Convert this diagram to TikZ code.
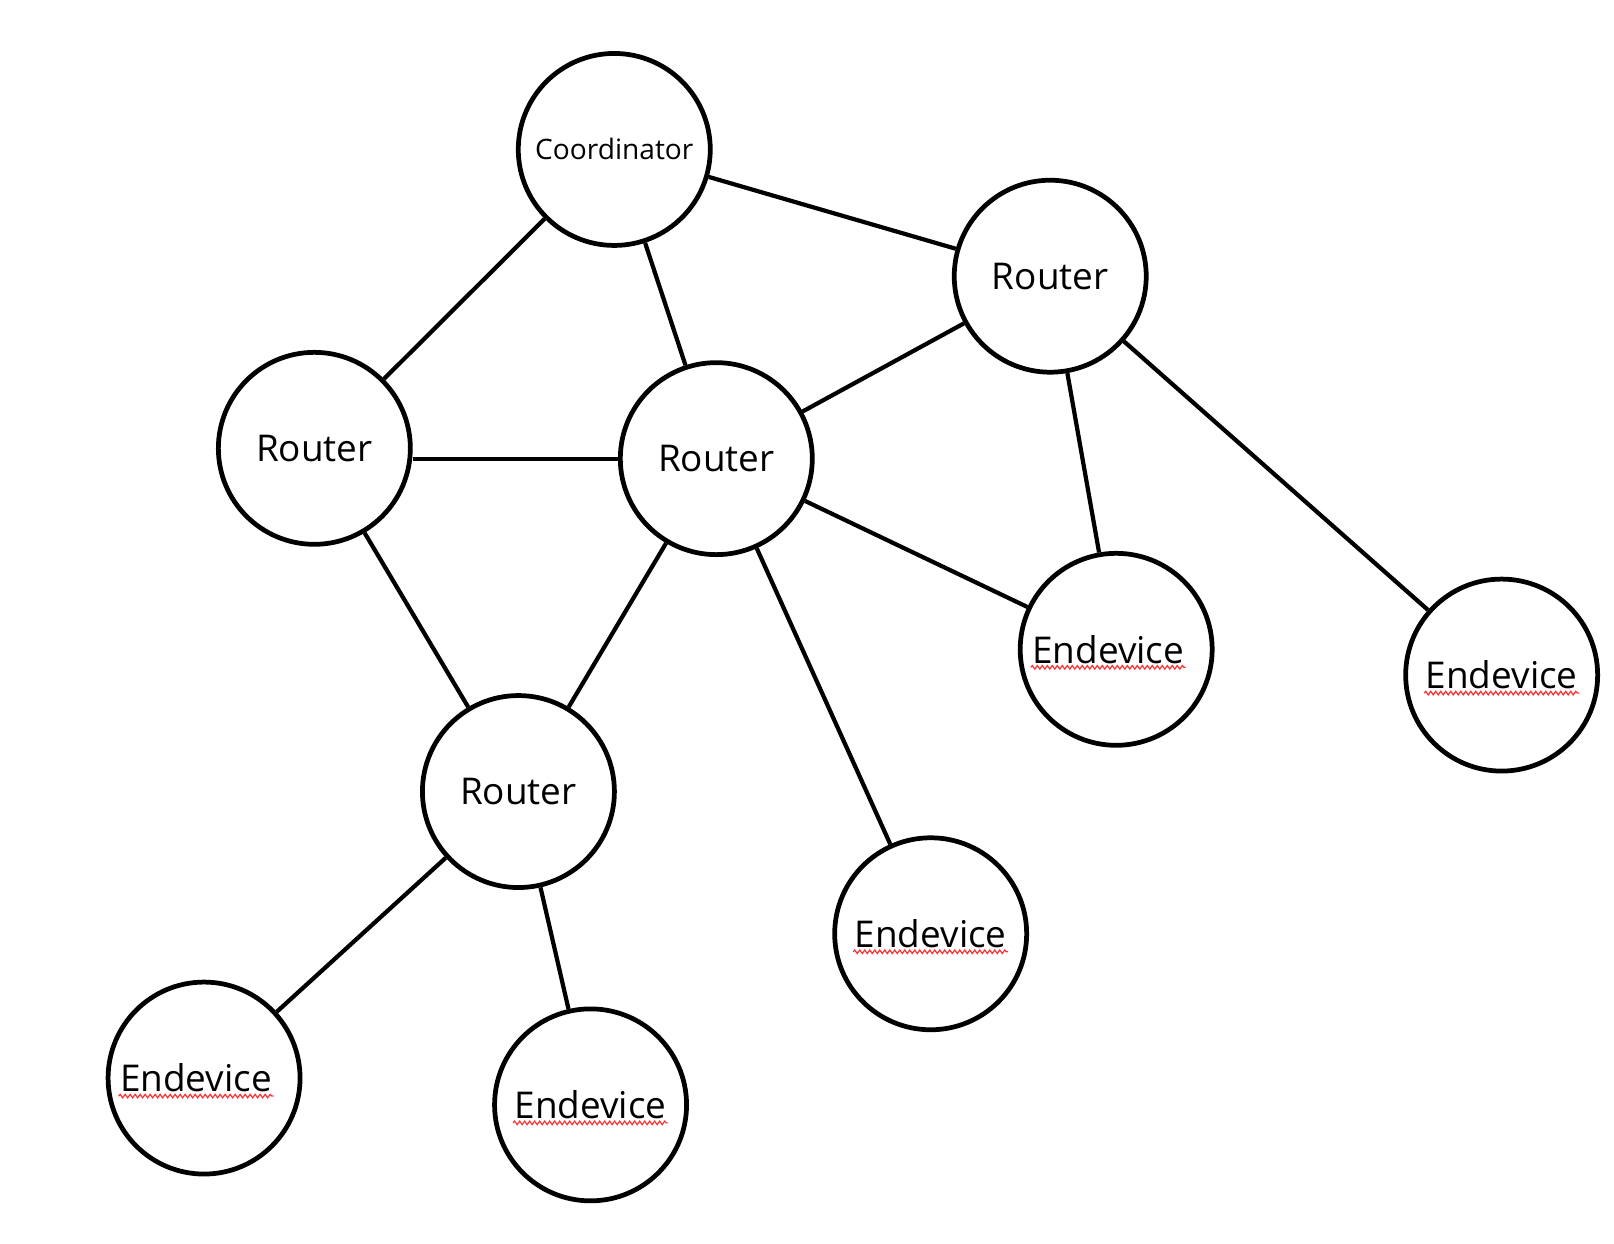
\documentclass[tikz,border=0pt]{standalone}
\usepackage{fontspec}
\setmainfont{Open Sans}
\usetikzlibrary{decorations.pathmorphing}

\begin{document}
\begin{tikzpicture}[x=0.02062cm, y=-0.02062cm,
    dev/.style={draw, circle, line width=2.7pt, inner sep=0pt, minimum size=3.84cm,
        font=\fontsize{21}{25}\selectfont},
    coordbox/.style={dev, font=\fontsize{16}{19}\selectfont},
    endev/.style={dev, path picture={
        \draw[line width=0.7pt, red!80, decorate,
            decoration={snake, amplitude=0.035cm, segment length=0.1cm}]
            ([shift={(-1.55cm+#1,-0.36cm)}]path picture bounding box.center)
            -- ++(3.1cm,0);}},
    endev/.default=0cm,
    link/.style={line width=2.4pt}]
    \useasboundingbox (0, 0) rectangle (1566, 1207);
    % nodes
    \node[coordbox] (co) at (596, 145) {Coordinator};
    \node[dev] (rt1) at (1019, 268) {Router};
    \node[dev] (rt2) at (305, 435) {Router};
    \node[dev] (rt3) at (695, 445) {Router};
    \node[dev] (rt4) at (503, 768) {Router};
    \node[endev=-0.16cm] (ed1) at (1083, 630) {Endevice\kern0.32cm};
    \node[endev] (ed2) at (1457, 655) {Endevice};
    \node[endev] (ed3) at (903, 906) {Endevice};
    \node[endev=-0.16cm] (ed4) at (198, 1046) {Endevice\kern0.32cm};
    \node[endev] (ed5) at (573, 1072) {Endevice};
    % links
    \draw[link] (co) -- (rt1);
    \draw[link] (co) -- (rt2);
    \draw[link] (co) -- (rt3);
    \draw[link] (rt1) -- (rt3);
    \draw[link] (rt1) -- (ed1);
    \draw[link] (rt1) -- (ed2);
    \draw[link] (rt3.west) -- (rt3.west -| rt2.east);
    \draw[link] (rt2) -- (rt4);
    \draw[link] (rt3) -- (rt4);
    \draw[link] (rt3) -- (ed1);
    \draw[link] (rt3) -- (ed3);
    \draw[link] (rt4) -- (ed4);
    \draw[link] (rt4) -- (ed5);
\end{tikzpicture}
\end{document}
